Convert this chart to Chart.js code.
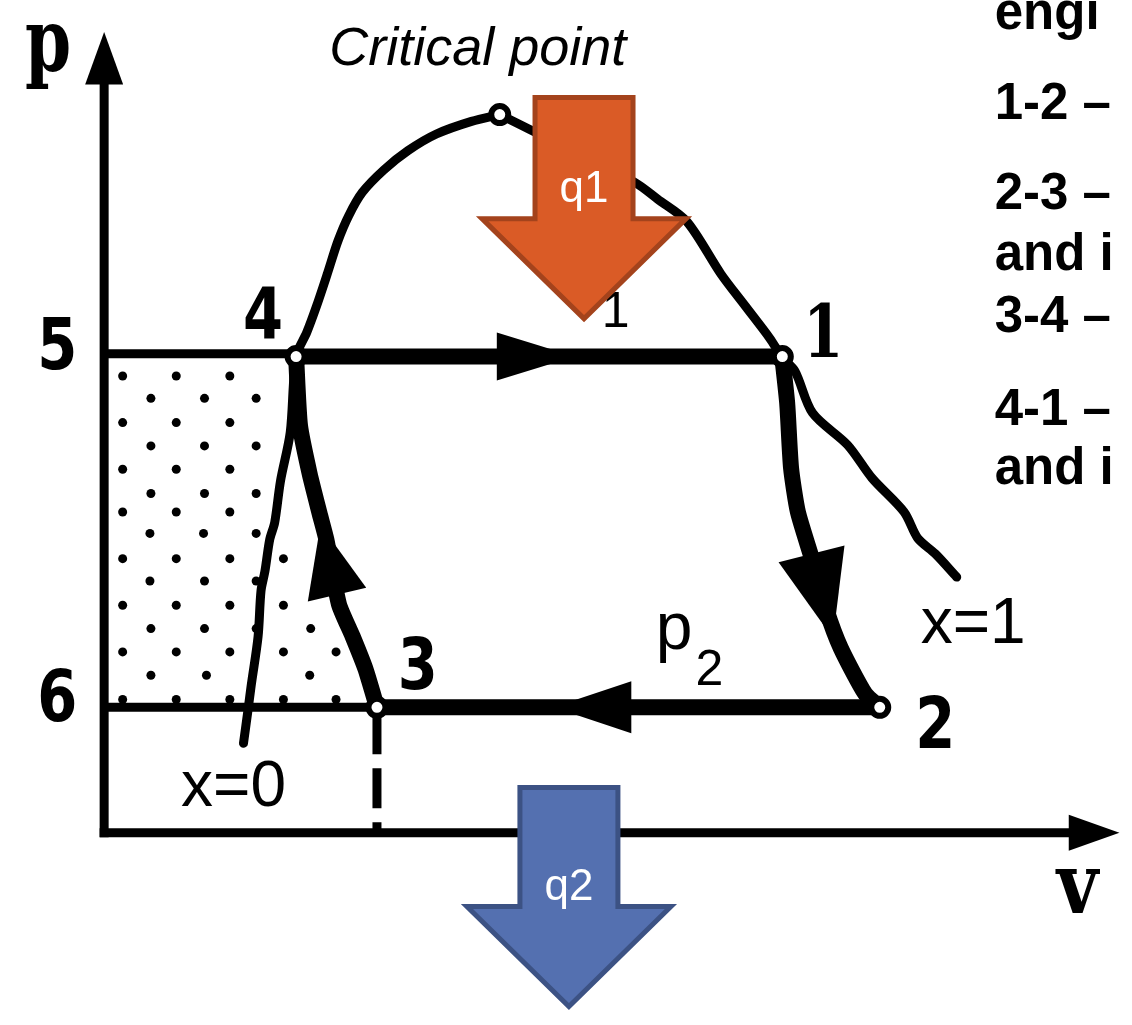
<!DOCTYPE html>
<html>
<head>
<meta charset="utf-8">
<script src="https://cdn.jsdelivr.net/npm/chart.js@4/dist/chart.umd.min.js"></script>
<style>
html,body{margin:0;padding:0;background:#fff;overflow:hidden}
#wrap{width:1132px;height:1025px;position:relative}
canvas{display:block}
</style>
</head>
<body>
<div id="wrap"><canvas id="c"></canvas></div>
<script>
// ================= DATA (v = specific volume, p = pressure, diagram units) =================
const vRange = [-0.92, 10.40];
const pRange = [-1.83, 8.42];

// state points: 1, 2, 3, 4, critical point
const stateV = [6.96, 7.96, 2.80, 1.97, 4.06];
const stateP = [4.90, 1.29, 1.29, 4.90, 7.39];

// saturation dome, left branch (critical point -> 4 -> x=0 line)
const domeLeftV = [4.06, 3.77, 3.41, 3.12, 2.87, 2.65, 2.51, 2.40, 2.29, 2.18, 2.08, 1.97, 1.91, 1.81, 1.75, 1.70, 1.65, 1.61, 1.58, 1.51, 1.48, 1.43];
const domeLeftP = [7.39, 7.32, 7.19, 7.02, 6.82, 6.59, 6.35, 6.09, 5.75, 5.42, 5.15, 4.90, 4.12, 3.62, 3.19, 3.02, 2.69, 2.49, 2.02, 1.52, 1.29, 0.92];

// saturation dome, right branch (critical point -> 1 -> x=1 line)
const domeRightV = [4.06, 4.40, 4.93, 5.45, 5.68, 5.98, 6.33, 6.58, 6.83, 6.96, 7.09, 7.27, 7.63, 7.88, 8.21, 8.35, 8.53, 8.75];
const domeRightP = [7.39, 7.22, 6.94, 6.69, 6.52, 6.29, 5.75, 5.42, 5.09, 4.89, 4.75, 4.32, 3.99, 3.65, 3.30, 3.03, 2.87, 2.63];

// cycle processes
const proc41V = [1.97, 6.96];
const proc41P = [4.90, 4.90];
const proc12V = [6.96, 7.01, 7.05, 7.12, 7.27, 7.41, 7.56, 7.81, 7.96];
const proc12P = [4.89, 4.42, 3.75, 3.30, 2.80, 2.30, 1.90, 1.43, 1.29];
const proc23V = [7.96, 2.80];
const proc23P = [1.29, 1.29];
const proc34V = [2.80, 2.68, 2.55, 2.41, 2.28, 2.21, 2.11, 2.01, 1.97];
const proc34P = [1.29, 1.69, 2.02, 2.35, 3.02, 3.29, 3.69, 4.19, 4.90];

// pressure levels 5 and 6 from the p axis
const level5V = [0, 1.97];
const level5P = [4.93, 4.93];
const level6V = [0, 2.80];
const level6P = [1.29, 1.29];

// dashed projection of point 3 onto the v axis
const drop3V = [2.80, 2.80];
const drop3P = [1.22, 0.0];

// axes
const pAxisV = [0, 0];
const pAxisP = [0, 7.75];
const vAxisV = [0, 9.95];
const vAxisP = [0, 0];

// stipple dots in the work area
const dotV = [0.19, 0.74, 1.29, 0.48, 1.03, 1.56, 0.19, 0.74, 1.29, 0.48, 1.03, 1.56,
              0.19, 0.74, 1.29, 0.48, 1.03, 1.56, 0.19, 0.74, 1.29, 0.47, 1.02, 1.56,
              0.19, 0.74, 1.29, 1.84, 0.47, 1.03, 1.56, 0.19, 0.74, 1.29, 1.84,
              0.48, 1.03, 1.56, 2.12, 0.19, 0.74, 1.29, 1.84, 2.38, 0.48, 1.05, 2.11,
              0.19, 0.74, 1.29, 1.84, 2.38];
const dotP = [4.70, 4.70, 4.70, 4.47, 4.47, 4.47, 4.22, 4.22, 4.22, 3.98, 3.98, 3.98,
              3.74, 3.74, 3.74, 3.49, 3.49, 3.49, 3.30, 3.30, 3.30, 3.08, 3.08, 3.08,
              2.82, 2.82, 2.82, 2.82, 2.59, 2.59, 2.59, 2.34, 2.34, 2.34, 2.34,
              2.10, 2.10, 2.10, 2.10, 1.86, 1.86, 1.86, 1.86, 1.86, 1.62, 1.62, 1.62,
              1.37, 1.37, 1.37, 1.37, 1.37];

// flow direction arrowheads: 4-1, 2-3, 1-2, 3-4, p axis, v axis
const flowBaseV = [4.03, 5.41, 7.26, 2.39, 0, 9.90];
const flowBaseP = [4.90, 1.29, 2.87, 2.45, 7.70, 0];
const flowTipV  = [4.83, 4.61, 7.48, 2.22, 0, 10.42];
const flowTipP  = [4.90, 1.29, 2.00, 3.17, 8.24, 0];

// heat arrows q1 (supplied) and q2 (rejected)
const heatLabels = ['q1', 'q2'];
const heatV = [4.925, 4.77];
const heatTopP = [7.565, 0.465];
const heatTipP = [5.29, -1.79];
const heatLabelP = [6.49, -0.69];

// point labels
const pointLabels = ['5', '4', '6', '3', '1', '2'];
const pointLabelV = [-0.48, 1.63, -0.48, 3.22, 7.38, 8.53];
const pointLabelP = [4.77, 5.09, 1.15, 1.48, 4.90, 0.87];

// axis titles
const axisTitles = ['p', 'v'];
const axisTitleV = [-0.575, 9.99];
const axisTitleP = [7.84, -0.83];

// notes
const notes = ['Critical point', 'x=0', 'x=1', 'p', '2', '1'];
const noteV = [2.31, 0.79, 8.38, 5.66, 6.07, 5.25];
const noteP = [7.90, 0.27, 1.95, 1.89, 1.52, 5.20];

// side text
const sideLines = ['engi', '1-2 –', '2-3 –', 'and i', '3-4 –', '4-1 –', 'and i'];
const sideV = 9.14;
const sideP = [8.27, 7.34, 6.42, 5.79, 5.15, 4.20, 3.59];

// ================= STYLES =================
const THIN = 9, THICK = 16;
const flowHalfWidth = [24, 26, 34, 30, 19, 18];
const heatFill = ['#DA5B26', '#5470B0'];
const heatStroke = ['#A4431C', '#3C5284'];
const heatShaftHalf = 49, heatHeadHalf = 102, heatHeadLen = 100;
const pointLabelFont = ['bold 72px "DejaVu Sans"', 'bold 72px "DejaVu Sans"', 'bold 72px "DejaVu Sans"', 'bold 72px "DejaVu Sans"', 'bold 72px "DejaVu Serif"', 'bold 72px "DejaVu Sans"'];
const axisTitleFont = ['bold 88px "DejaVu Serif"', 'bold 84px "DejaVu Serif"'];
const axisTitleScale = [0.75, 0.85];
const noteFont = ['italic 54px "Liberation Sans"', '64px "Liberation Sans"', '64px "Liberation Sans"', '66px "Liberation Sans"', '50px "Liberation Sans"', '50px "Liberation Sans"'];
const noteAlign = ['left', 'left', 'left', 'left', 'left', 'center'];

// ================= BUILD =================
const pts = (vs, ps) => vs.map((v, i) => ({x: v, y: ps[i]}));
const lineDs = (vs, ps, w, extra) => Object.assign({
  data: pts(vs, ps), showLine: true, pointRadius: 0, borderColor: '#000',
  backgroundColor: '#000', borderWidth: w, borderCapStyle: 'round',
  borderJoinStyle: 'round', tension: 0, fill: false, order: 3
}, extra || {});

const datasets = [
  { data: pts(stateV, stateP), pointRadius: 8.5, pointBorderWidth: 6,
    pointBackgroundColor: '#fff', pointBorderColor: '#000', showLine: false, order: 0 },
  lineDs(proc41V, proc41P, THICK, {order: 2}),
  lineDs(proc12V, proc12P, THICK, {order: 2, tension: 0.2}),
  lineDs(proc23V, proc23P, THICK, {order: 2}),
  lineDs(proc34V, proc34P, THICK, {order: 2, tension: 0.2}),
  lineDs(domeLeftV, domeLeftP, THIN, {tension: 0.3}),
  lineDs(domeRightV, domeRightP, THIN, {tension: 0.3}),
  lineDs(level5V, level5P, THIN, {borderCapStyle: 'butt'}),
  lineDs(level6V, level6P, THIN, {borderCapStyle: 'butt'}),
  lineDs(drop3V, drop3P, THIN, {borderDash: [40, 14], borderCapStyle: 'butt'}),
  lineDs(pAxisV, pAxisP, THIN, {borderCapStyle: 'square'}),
  lineDs(vAxisV, vAxisP, THIN, {borderCapStyle: 'square'}),
  { data: pts(dotV, dotP), pointRadius: 4.5, pointBorderWidth: 0,
    pointBackgroundColor: '#000', showLine: false, order: 10 }
];

const diagramPlugin = {
  id: 'diagram',
  afterDatasetsDraw(chart) {
    const ctx = chart.ctx;
    const X = v => chart.scales.x.getPixelForValue(v);
    const Y = p => chart.scales.y.getPixelForValue(p);
    const text = (s, v, p, font, align, color, sx) => {
      ctx.save();
      ctx.font = font; ctx.textAlign = align; ctx.textBaseline = 'alphabetic';
      ctx.fillStyle = color;
      ctx.translate(X(v), Y(p)); ctx.scale(sx || 1, 1);
      ctx.fillText(s, 0, 0);
      ctx.restore();
    };

    // flow arrowheads
    ctx.save();
    ctx.fillStyle = '#000';
    flowBaseV.forEach((bv, i) => {
      const bx = X(bv), by = Y(flowBaseP[i]), tx = X(flowTipV[i]), ty = Y(flowTipP[i]);
      const len = Math.hypot(tx - bx, ty - by), dx = (tx - bx) / len, dy = (ty - by) / len;
      const w = flowHalfWidth[i];
      ctx.beginPath();
      ctx.moveTo(tx, ty);
      ctx.lineTo(bx - dy * w, by + dx * w);
      ctx.lineTo(bx + dy * w, by - dx * w);
      ctx.closePath();
      ctx.fill();
    });
    ctx.restore();

    // labels
    pointLabels.forEach((s, i) => text(s, pointLabelV[i], pointLabelP[i], pointLabelFont[i], 'center', '#000', 0.8));
    axisTitles.forEach((s, i) => text(s, axisTitleV[i], axisTitleP[i], axisTitleFont[i], 'center', '#000', axisTitleScale[i]));
    notes.forEach((s, i) => text(s, noteV[i], noteP[i], noteFont[i], noteAlign[i], '#000'));

    // heat arrows
    heatV.forEach((hv, i) => {
      const cx = X(hv), top = Y(heatTopP[i]), tip = Y(heatTipP[i]), hb = tip - heatHeadLen;
      ctx.save();
      ctx.beginPath();
      ctx.moveTo(cx - heatShaftHalf, top);
      ctx.lineTo(cx + heatShaftHalf, top);
      ctx.lineTo(cx + heatShaftHalf, hb);
      ctx.lineTo(cx + heatHeadHalf, hb);
      ctx.lineTo(cx, tip);
      ctx.lineTo(cx - heatHeadHalf, hb);
      ctx.lineTo(cx - heatShaftHalf, hb);
      ctx.closePath();
      ctx.fillStyle = heatFill[i];
      ctx.fill();
      ctx.lineWidth = 5; ctx.lineJoin = 'miter'; ctx.strokeStyle = heatStroke[i];
      ctx.stroke();
      ctx.restore();
      text(heatLabels[i], hv, heatLabelP[i], '44px "Liberation Sans"', 'center', '#fff');
    });

    // side text
    sideLines.forEach((s, i) => text(s, sideV, sideP[i], 'bold 51px "Liberation Sans"', 'left', '#000'));
  }
};

new Chart(document.getElementById('c'), {
  type: 'scatter',
  data: { datasets },
  options: {
    responsive: true, maintainAspectRatio: false, animation: false, events: [],
    layout: { padding: 0 },
    plugins: { legend: { display: false }, tooltip: { enabled: false } },
    scales: {
      x: { type: 'linear', min: vRange[0], max: vRange[1], display: false },
      y: { type: 'linear', min: pRange[0], max: pRange[1], display: false }
    }
  },
  plugins: [diagramPlugin]
});
</script>
</body>
</html>
